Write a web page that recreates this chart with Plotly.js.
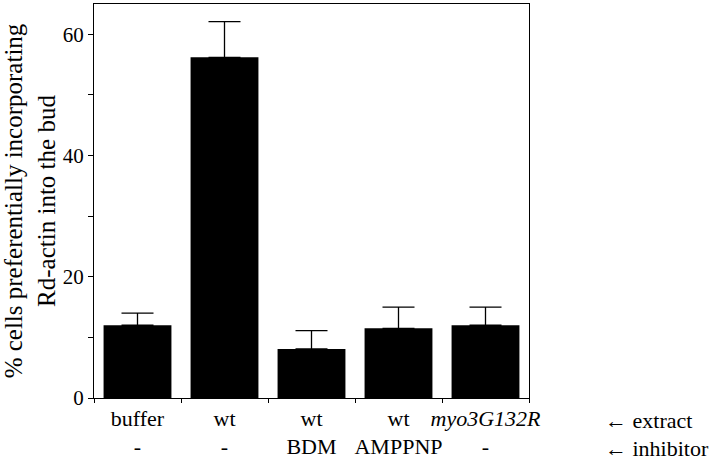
<!DOCTYPE html>
<html>
<head>
<meta charset="utf-8">
<script src="https://cdn.plot.ly/plotly-3.0.1.min.js"></script>
<style>
  html, body { margin: 0; padding: 0; background: #fff; }
  #warm { position: absolute; left: 200px; top: 150px; z-index: 0; color: #fff; font-size: 24px; line-height: 1.2; }
  #chart { position: relative; z-index: 1; }
</style>
</head>
<body>
<div id="warm">
  <div style="font-family:'Liberation Serif'">buffer wt <i>myo3G132R</i> 0123456789 ←</div>
</div>
<div id="chart"></div>
<script>
// extract / inhibitor combinations (two label rows under each bar)
const extracts = ['buffer', 'wt', 'wt', 'wt', '<i>myo3G132R</i>'];
const inhibitors = ['-', '-', 'BDM', 'AMPPNP', '-'];
const categories = extracts.map((e, i) => e + '<br>' + inhibitors[i]);

// % cells preferentially incorporating Rd-actin into the bud
const percentCells = [12, 56.2, 8.1, 11.5, 12];
const errorUp = [2, 5.9, 3, 3.5, 3];

const yTicks = [0, 10, 20, 30, 40, 50, 60];
const yTickLabels = ['0', '', '20', '', '40', '', '60'];

const FONT = 'Liberation Serif, Times New Roman, serif';

function draw() {
    const bars = {
        type: 'bar',
        x: categories,
        y: percentCells,
        width: 0.78,
        marker: { color: '#000', line: { width: 0 } },
        error_y: {
            type: 'data',
            symmetric: false,
            array: errorUp,
            arrayminus: errorUp.map(() => 0),
            color: '#000',
            thickness: 1.3,
            width: 16
        },
        hoverinfo: 'skip'
    };

    const layout = {
        width: 720,
        height: 462,
        margin: { l: 94, r: 191, t: 4, b: 64 },
        paper_bgcolor: '#fff',
        plot_bgcolor: '#fff',
        showlegend: false,
        font: { family: FONT, size: 22, color: '#000' },
        xaxis: {
            type: 'category',
            tickson: 'boundaries',
            tickangle: 0,
            ticks: 'outside',
            ticklen: 4,
            tickcolor: '#000',
            showline: true,
            linecolor: '#000',
            linewidth: 1.3,
            mirror: true,
            showgrid: false,
            tickfont: { size: 22, family: FONT, color: '#000' },
            automargin: false
        },
        yaxis: {
            range: [0, 65],
            tickvals: yTicks,
            ticktext: yTickLabels,
            ticks: 'outside',
            ticklen: 5,
            tickcolor: '#000',
            showline: true,
            linecolor: '#000',
            linewidth: 1.3,
            mirror: true,
            showgrid: false,
            zeroline: false,
            tickfont: { size: 21, family: FONT, color: '#000' },
            title: {
                text: '% cells preferentially incorporating<br>Rd-actin into the bud',
                font: { size: 25, family: FONT, color: '#000' },
                standoff: 8
            },
            automargin: false
        },
        annotations: [
            { text: '\u2190 extract', xref: 'paper', yref: 'paper', x: 1.17, y: 0, yshift: -22,
              xanchor: 'left', yanchor: 'middle', showarrow: false, font: { size: 22, family: FONT, color: '#000' } },
            { text: '\u2190 inhibitor', xref: 'paper', yref: 'paper', x: 1.17, y: 0, yshift: -50,
              xanchor: 'left', yanchor: 'middle', showarrow: false, font: { size: 22, family: FONT, color: '#000' } }
        ]
    };

    Plotly.newPlot('chart', [bars], layout, { displayModeBar: false });
}

if (document.fonts && document.fonts.load) {
    Promise.all([
        document.fonts.load('22px "Liberation Serif"'),
        document.fonts.load('italic 22px "Liberation Serif"')
    ]).then(draw, draw);
} else {
    draw();
}
</script>
</body>
</html>
